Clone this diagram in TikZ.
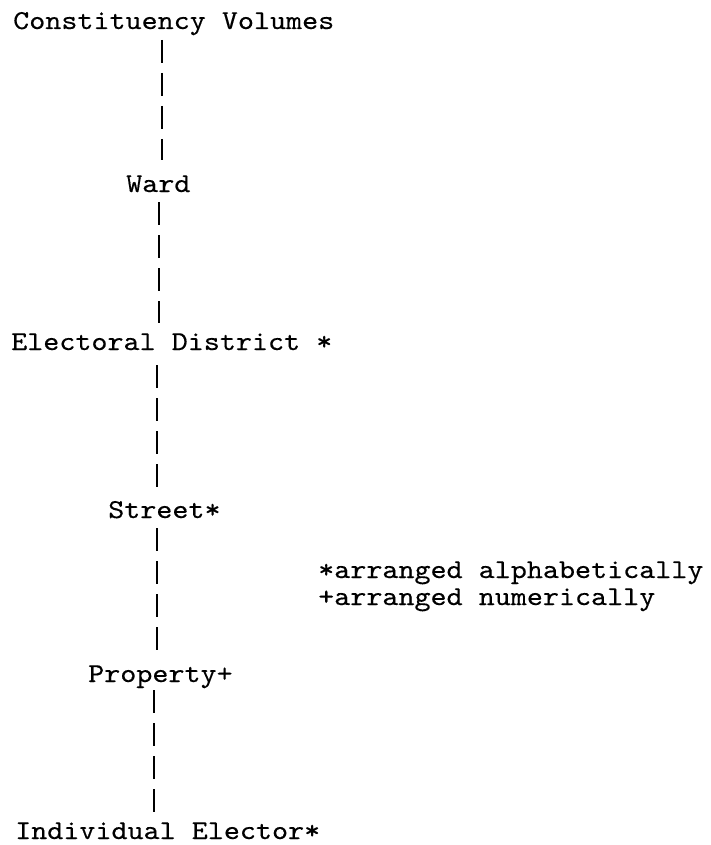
\documentclass[tikz,border=0pt]{standalone}
\usepackage{fontspec}
\setmonofont{lmmono10-regular.otf}[FakeStretch=1.12, FakeBold=0.3]
\usepackage{tikz}
\usetikzlibrary{positioning}

\begin{document}
\begin{tikzpicture}[x=1pt, y=1pt,
    level/.style={anchor=base west, inner sep=0pt, font=\ttfamily\fontsize{27.3}{30}\selectfont},
    spine/.style={line width=1.6pt, dash pattern=on 23pt off 10pt}]
    \useasboundingbox (0,0) rectangle (711,-845);

    % Hierarchy levels
    \node[level] (cv) at (13,-29) {Constituency Volumes};
    \node[level] (ward) at (126,-192) {Ward};
    \node[level] (district) at (11,-350) {Electoral District *};
    \node[level] (street) at (108,-518) {Street*};
    \node[level] (property) at (88,-682) {Property+};
    \node[level] (elector) at (15,-839) {Individual Elector*};

    % Connecting lines
    \draw[spine] ([yshift=-11pt]cv.base -| 162,0) -- ([yshift=32pt]ward.base -| 162,0);
    \draw[spine] ([yshift=-10pt]ward.base -| 159,0) -- ([yshift=27pt]district.base -| 159,0);
    \draw[spine] ([yshift=-15pt]district.base -| 157,0) -- ([yshift=30pt]street.base -| 157,0);
    \draw[spine] ([yshift=-10pt]street.base -| 157,0) -- ([yshift=30pt]property.base -| 157,0);
    \draw[spine] ([yshift=-8pt]property.base -| 154,0) -- ([yshift=26pt]elector.base -| 154,0);

    % Key
    \node[level] (alpha) at (318,-578) {*arranged alphabetically};
    \node[level] (numer) at (318,-605) {+arranged numerically};
\end{tikzpicture}
\end{document}
